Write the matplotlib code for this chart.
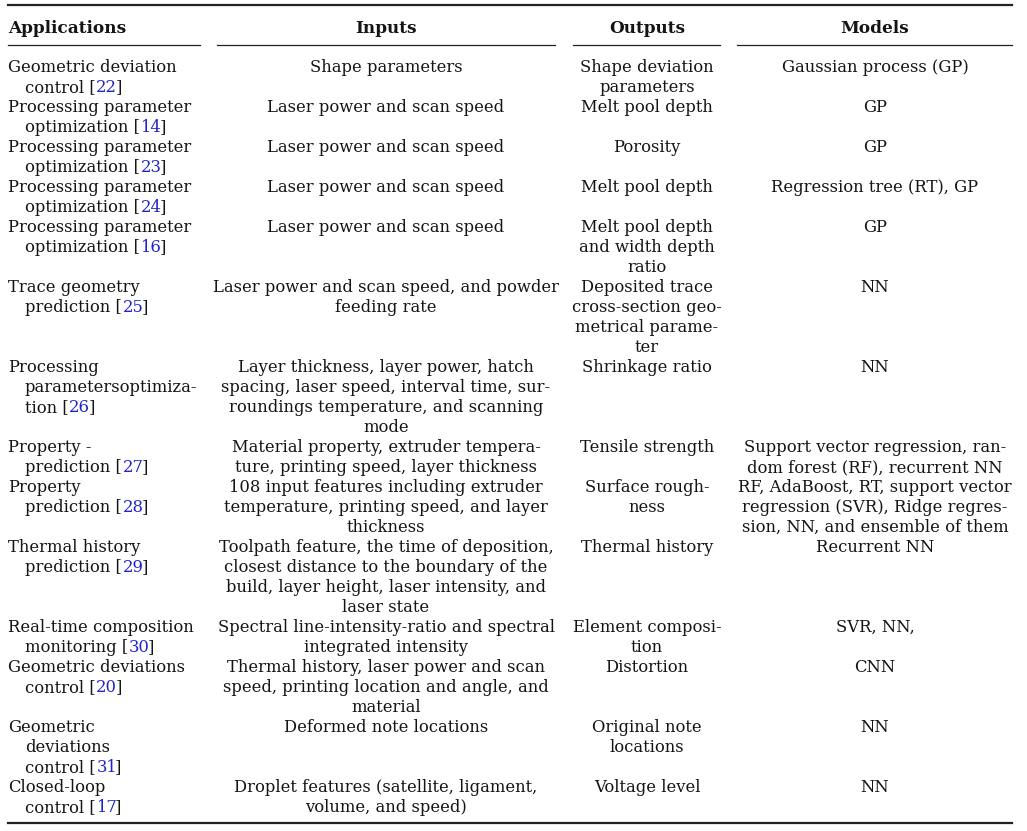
import matplotlib
matplotlib.use("Agg")
import matplotlib.pyplot as plt

# ------------------------------------------------------------
# Table content (wrapped as in the reference)
# ------------------------------------------------------------

headers = ["Applications", "Inputs", "Outputs", "Models"]

applications = [
    ["Geometric deviation", "control"],
    ["Processing parameter", "optimization"],
    ["Processing parameter", "optimization"],
    ["Processing parameter", "optimization"],
    ["Processing parameter", "optimization"],
    ["Trace geometry", "prediction"],
    ["Processing", "parametersoptimiza-", "tion"],
    ["Property -", "prediction"],
    ["Property", "prediction"],
    ["Thermal history", "prediction"],
    ["Real-time composition", "monitoring"],
    ["Geometric deviations", "control"],
    ["Geometric", "deviations", "control"],
    ["Closed-loop", "control"],
]

refs = ["22", "14", "23", "24", "16", "25", "26", "27", "28", "29", "30", "20", "31", "17"]

inputs = [
    ["Shape parameters"],
    ["Laser power and scan speed"],
    ["Laser power and scan speed"],
    ["Laser power and scan speed"],
    ["Laser power and scan speed"],
    ["Laser power and scan speed, and powder", "feeding rate"],
    ["Layer thickness, layer power, hatch",
     "spacing, laser speed, interval time, sur-",
     "roundings temperature, and scanning", "mode"],
    ["Material property, extruder tempera-",
     "ture, printing speed, layer thickness"],
    ["108 input features including extruder",
     "temperature, printing speed, and layer", "thickness"],
    ["Toolpath feature, the time of deposition,",
     "closest distance to the boundary of the",
     "build, layer height, laser intensity, and", "laser state"],
    ["Spectral line-intensity-ratio and spectral", "integrated intensity"],
    ["Thermal history, laser power and scan",
     "speed, printing location and angle, and", "material"],
    ["Deformed note locations"],
    ["Droplet features (satellite, ligament,", "volume, and speed)"],
]

outputs = [
    ["Shape deviation", "parameters"],
    ["Melt pool depth"],
    ["Porosity"],
    ["Melt pool depth"],
    ["Melt pool depth", "and width depth", "ratio"],
    ["Deposited trace", "cross-section geo-", "metrical parame-", "ter"],
    ["Shrinkage ratio"],
    ["Tensile strength"],
    ["Surface rough-", "ness"],
    ["Thermal history"],
    ["Element composi-", "tion"],
    ["Distortion"],
    ["Original note", "locations"],
    ["Voltage level"],
]

models = [
    ["Gaussian process (GP)"],
    ["GP"],
    ["GP"],
    ["Regression tree (RT), GP"],
    ["GP"],
    ["NN"],
    ["NN"],
    ["Support vector regression, ran-", "dom forest (RF), recurrent NN"],
    ["RF, AdaBoost, RT, support vector", "regression (SVR), Ridge regres-",
     "sion, NN, and ensemble of them"],
    ["Recurrent NN"],
    ["SVR, NN,"],
    ["CNN"],
    ["NN"],
    ["NN"],
]

# ------------------------------------------------------------
# Layout (pixel coordinates)
# ------------------------------------------------------------

W, H = 1027, 831
FONT = "DejaVu Serif"
FS = 11.75
FS_HEAD = 12.2
INK = "#141414"
BLUE = "#2222cc"

x_app = 8
x_indent = 25
x_inputs = 386
x_outputs = 647
x_models = 875

y_header = 33
y_first = 72
line_h = 20

fig = plt.figure(figsize=(W / 100, H / 100), dpi=100)
ax = fig.add_axes([0, 0, 1, 1])
ax.set_xlim(0, W)
ax.set_ylim(H, 0)
ax.axis("off")

renderer = fig.canvas.get_renderer()


def text_width(t):
    return t.get_window_extent(renderer).width  # pixels == data units here


def put(x, y, s, ha="left", color=INK, weight="normal", size=FS):
    return ax.text(x, y, s, ha=ha, va="baseline", fontsize=size,
                   family=FONT, color=color, fontweight=weight)


# rules
ax.plot([8, 1012], [5, 5], color="#222222", lw=1.6)
ax.plot([8, 1012], [823, 823], color="#222222", lw=1.6)
for x0, x1 in [(8, 200), (217, 555), (573, 720), (737, 1012)]:
    ax.plot([x0, x1], [45, 45], color="#222222", lw=0.9)

# headers
put(x_app, y_header, headers[0], weight="bold", size=FS_HEAD)
put(x_inputs, y_header, headers[1], ha="center", weight="bold", size=FS_HEAD)
put(x_outputs, y_header, headers[2], ha="center", weight="bold", size=FS_HEAD)
put(x_models, y_header, headers[3], ha="center", weight="bold", size=FS_HEAD)

# body
line = 0
for app, ref, inp, out, mod in zip(applications, refs, inputs, outputs, models):
    for k, s in enumerate(app):
        y = y_first + (line + k) * line_h
        x = x_app if k == 0 else x_indent
        if k == len(app) - 1:
            t = put(x, y, s + " [")
            x += text_width(t) + 0.5
            t = put(x, y, ref, color=BLUE)
            x += text_width(t) - 2.0
            put(x, y, "]")
        else:
            put(x, y, s)
    for k, s in enumerate(inp):
        put(x_inputs, y_first + (line + k) * line_h, s, ha="center")
    for k, s in enumerate(out):
        put(x_outputs, y_first + (line + k) * line_h, s, ha="center")
    for k, s in enumerate(mod):
        put(x_models, y_first + (line + k) * line_h, s, ha="center")
    line += max(len(app), len(inp), len(out), len(mod))

fig.savefig("out.png", dpi=100)
